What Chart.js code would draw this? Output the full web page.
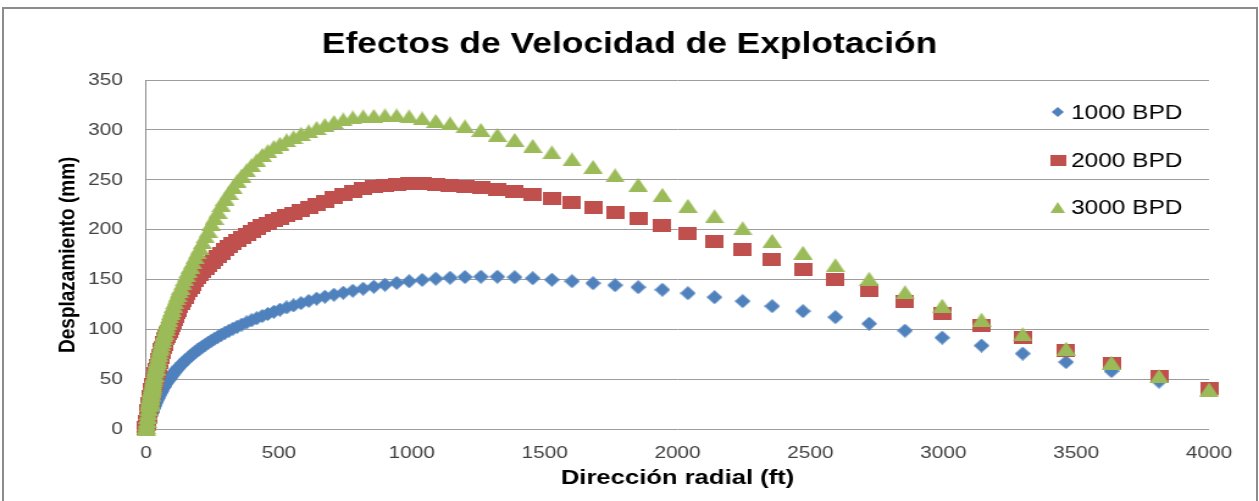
<!DOCTYPE html>
<html>
<head>
<meta charset="utf-8">
<script src="https://cdn.jsdelivr.net/npm/chart.js@4.4.1/dist/chart.umd.min.js"></script>
<style>
  html, body { margin: 0; padding: 0; background: #fff; }
  body { width: 1259px; height: 501px; overflow: hidden; position: relative; }
  #wrap { position: absolute; left: 0; top: 0; width: 1032px; height: 501px;
          transform: scaleX(1.22); transform-origin: 0 0; }
  #frame { position: absolute; left: 2px; top: 7px; width: 1256px; height: 520px;
           border: 2px solid #8c8c8c; box-sizing: border-box; pointer-events: none; }
</style>
</head>
<body>
<div id="wrap"><canvas id="c" width="1032" height="501"></canvas></div>
<div id="frame"></div>
<script>
// Radial distance from the well (ft)
const radialFt = [0.3, 1.2, 2.5, 4, 6, 8, 10,
  12.3, 12.9, 13.5, 14.2, 14.9, 15.6, 16.4, 17.2, 18.0, 18.9,
  19.9, 20.8, 21.9, 22.9, 24.1, 25.3, 26.5, 27.8, 29.2, 30.6,
  32, 34, 36, 37, 39, 41, 43, 45, 48, 50,
  53, 55, 58, 61, 64, 67, 70, 74, 77, 81,
  85, 89, 94, 98, 103, 108, 114, 119, 125, 131,
  138, 145, 152, 159, 167, 175, 184, 193, 202, 212,
  223, 234, 245, 257, 270, 283, 297, 312, 327, 343,
  360, 378, 397, 416, 437, 458, 481, 504, 529, 555,
  583, 612, 642, 673, 707, 742, 778, 817, 857, 899,
  943, 990, 1039, 1090, 1144, 1200, 1260, 1322, 1387, 1455,
  1527, 1603, 1682, 1765, 1852, 1943, 2039, 2139, 2245, 2356,
  2472, 2594, 2721, 2856, 2996, 3144, 3299, 3462, 3633, 3812,
  4000];

// Displacement (mm) for each production rate
const bpd1000 = [0.3, 1.2, 2.5, 3.9, 5.8, 7.5, 9.3,
  11.2, 11.7, 12.2, 12.7, 13.2, 13.8, 14.4, 15.0, 15.5, 16.3,
  16.9, 17.7, 18.2, 19.0, 19.9, 20.6, 21.5, 22.4, 23.3, 24.2,
  25.0, 26.4, 27.5, 28.1, 29.2, 30.3, 31.3, 32.4, 34.0, 35.1,
  36.5, 37.4, 38.8, 40.3, 41.6, 42.9, 44.1, 45.9, 47.0, 48.5,
  50.0, 51.5, 53.2, 54.6, 56.3, 57.9, 59.7, 61.2, 62.9, 64.6,
  66.5, 68.3, 70.0, 71.7, 73.6, 75.4, 77.4, 79.2, 81.0, 83.0,
  85.0, 86.9, 88.8, 90.8, 92.8, 94.8, 96.9, 98.9, 101.0, 103.0,
  105.1, 107.2, 109.4, 111.4, 113.6, 115.7, 117.9, 120.0, 122.2, 124.3,
  126.6, 128.8, 131.0, 133.0, 135.0, 137.0, 139.0, 141.0, 143.0, 145.0,
  146.8, 148.4, 149.8, 151.0, 152.0, 152.7, 153.0, 153.0, 152.5, 151.5,
  150.0, 148.5, 146.5, 144.5, 142.5, 140.0, 136.5, 132.5, 128.5, 123.5,
  118.5, 112.5, 106.0, 99.0, 92.0, 84.0, 76.0, 67.5, 58.5, 48.0,
  40.0];

const bpd2000 = [0.6, 2.4, 5.0, 7.8, 11.6, 15.0, 18.6,
  22.4, 23.4, 24.4, 25.4, 26.4, 27.6, 28.8, 30.0, 31.0, 32.6,
  33.8, 35.4, 36.4, 38.0, 39.8, 41.2, 43.0, 44.8, 46.6, 48.4,
  50.0, 52.8, 55.0, 56.1, 58.1, 60.3, 62.3, 64.5, 67.5, 69.7,
  72.5, 74.1, 76.8, 79.8, 82.4, 84.9, 87.2, 90.7, 92.8, 95.7,
  98.5, 101.4, 104.6, 107.2, 110.4, 113.4, 116.8, 119.6, 122.7, 125.9,
  129.3, 132.6, 135.7, 138.7, 142.1, 145.4, 148.8, 152.0, 155.0, 158.4,
  161.6, 164.6, 167.6, 170.7, 173.7, 176.7, 180.1, 183.2, 186.3, 189.2,
  192.2, 195.1, 198.1, 200.9, 203.8, 206.5, 209.2, 211.8, 214.3, 216.8,
  219.3, 222.0, 225.0, 228.5, 232.0, 235.5, 238.5, 241.0, 243.0, 244.5,
  245.5, 246.0, 246.0, 245.5, 244.5, 243.5, 242.0, 240.0, 238.0, 235.0,
  231.5, 227.5, 222.5, 217.0, 211.0, 204.0, 196.5, 188.5, 180.0, 170.5,
  160.5, 150.0, 139.0, 128.0, 116.5, 104.5, 92.0, 79.5, 66.0, 53.5,
  41.0];

const bpd3000 = [0.7, 2.6, 5.5, 8.6, 12.8, 16.5, 20.5,
  24.6, 25.7, 26.8, 27.9, 29.0, 30.4, 31.7, 33.0, 34.1, 35.9,
  37.2, 38.9, 40.0, 41.8, 43.8, 45.3, 47.3, 49.3, 51.3, 53.2,
  55.0, 58.1, 60.5, 61.8, 64.2, 66.7, 68.9, 71.3, 74.8, 77.2,
  80.3, 82.3, 85.4, 88.7, 91.5, 94.4, 97.0, 101.0, 103.4, 106.7,
  110.0, 113.3, 117.0, 120.1, 123.9, 127.4, 131.3, 134.6, 138.4, 142.1,
  146.3, 150.5, 154.5, 158.6, 163.2, 167.6, 172.6, 177.3, 182.0, 187.6,
  193.4, 199.0, 206.0, 212.0, 218.1, 224.7, 231.1, 236.9, 242.9, 248.7,
  254.3, 259.4, 264.7, 269.6, 274.9, 278.8, 283.0, 286.2, 289.6, 292.7,
  296.2, 298.5, 302.0, 305.0, 308.0, 310.5, 312.5, 313.5, 314.0, 314.5,
  314.5, 313.5, 311.5, 309.0, 306.5, 303.5, 300.0, 295.0, 290.0, 284.0,
  277.5, 270.5, 263.0, 254.5, 245.0, 235.0, 224.0, 213.5, 201.5, 189.0,
  177.0, 164.5, 151.0, 137.5, 124.0, 110.0, 95.5, 81.0, 67.0, 53.5,
  40.0];

const seriesNames = ['1000 BPD', '2000 BPD', '3000 BPD'];
const xTickLabels = ['0', '500', '1000', '1500', '2000', '2500', '3000', '3500', '4000'];
const yTickLabels = ['0', '50', '100', '150', '200', '250', '300', '350'];

const FONT = '"Liberation Sans", Arial, sans-serif';

// Filled marker drawn on a small canvas, used as a point style
function marker(shape, w, h, color) {
  const c = document.createElement('canvas');
  c.width = w; c.height = h;
  const g = c.getContext('2d');
  g.fillStyle = color;
  g.beginPath();
  if (shape === 'diamond') {
    g.moveTo(w / 2, 0); g.lineTo(w, h / 2); g.lineTo(w / 2, h); g.lineTo(0, h / 2);
  } else if (shape === 'square') {
    g.rect(0, 0, w, h);
  } else {
    g.moveTo(w / 2, 0); g.lineTo(w, h); g.lineTo(0, h);
  }
  g.closePath();
  g.fill();
  return c;
}

const BLUE = '#4F81BD', RED = '#C0504D', GREEN = '#9BBB59';
const pointMarks = [marker('diamond', 13, 14, BLUE), marker('square', 15, 13, RED), marker('triangle', 16, 14, GREEN)];
const legendMarks = [marker('diamond', 10, 10, BLUE), marker('square', 13, 11, RED), marker('triangle', 12, 11, GREEN)];

const toPoints = ys => radialFt.map((x, i) => ({ x: x, y: ys[i] }));

// Legend drawn inside the plot, at its right side
const sideLegend = {
  id: 'sideLegend',
  afterDatasetsDraw(chart) {
    const ctx = chart.ctx;
    const rows = [112, 160, 207.5];
    ctx.save();
    ctx.font = '20px ' + FONT;
    ctx.fillStyle = '#000';
    ctx.textBaseline = 'middle';
    ctx.textAlign = 'left';
    seriesNames.forEach((name, i) => {
      const m = legendMarks[i];
      ctx.drawImage(m, 867 - m.width / 2, rows[i] - m.height / 2);
      ctx.fillText(name, 878, rows[i] + 1);
    });
    ctx.restore();
  }
};

const datasets = [bpd1000, bpd2000, bpd3000].map((ys, i) => ({
  label: seriesNames[i],
  data: toPoints(ys),
  pointStyle: pointMarks[i],
  pointRadius: 7,
  pointHoverRadius: 7,
  showLine: false,
  clip: false,
  order: 3 - i
}));

new Chart(document.getElementById('c'), {
  type: 'scatter',
  data: { datasets },
  options: {
    responsive: false,
    animation: false,
    devicePixelRatio: 1,
    events: [],
    layout: { padding: 0 },
    plugins: {
      legend: { display: false },
      tooltip: { enabled: false },
      title: {
        display: true,
        text: 'Efectos de Velocidad de Explotación',
        color: '#000',
        font: { family: FONT, size: 29, weight: 'bold' },
        padding: { top: 27.6, bottom: 17.6 }
      }
    },
    scales: {
      x: {
        type: 'linear', min: 0, max: 4000,
        grid: { display: false, drawTicks: false },
        border: { display: false },
        ticks: {
          stepSize: 500, maxRotation: 0, autoSkip: false, padding: 14,
          color: '#404040', font: { family: FONT, size: 17 },
          callback: (v) => xTickLabels[Math.round(v / 500)]
        },
        title: {
          display: true, text: 'Dirección radial (ft)', color: '#000',
          font: { family: FONT, size: 21, weight: 'bold' },
          padding: { top: 0, bottom: 10.4 }
        },
        afterFit(s) { s.height = 71.5; }
      },
      y: {
        min: 0, max: 350,
        grid: { color: '#9d9d9d', lineWidth: 1, drawTicks: false },
        border: { display: true, color: '#8c8c8c', width: 1 },
        ticks: {
          stepSize: 50, padding: 19,
          color: '#404040', font: { family: FONT, size: 17 },
          callback: (v) => yTickLabels[Math.round(v / 50)]
        },
        title: {
          display: true, text: 'Desplazamiento (mm)', color: '#000',
          font: { family: FONT, size: 19, weight: 'bold' },
          padding: { top: 44.3, bottom: 0 }
        },
        afterFit(s) { s.width = 119.7; }
      },
      // empty strip on the right of the plot
      yRight: {
        position: 'right', min: 0, max: 350,
        grid: { display: false, drawTicks: false },
        border: { display: false },
        ticks: { display: false },
        afterFit(s) { s.width = 41; }
      }
    }
  },
  plugins: [sideLegend]
});
</script>
</body>
</html>
